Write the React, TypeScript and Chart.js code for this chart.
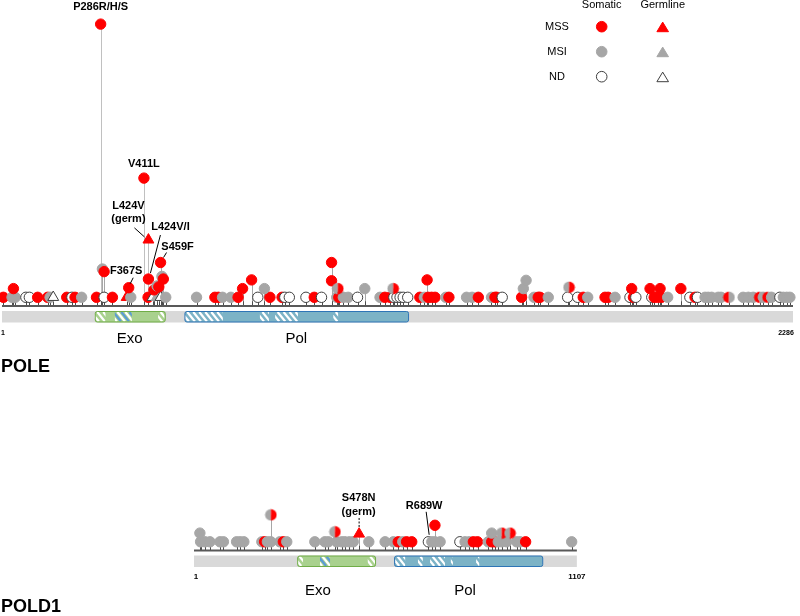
import React, { useEffect, useRef } from 'react';
import { Chart, registerables } from 'chart.js';

Chart.register(...registerables);

const FONT = '"Liberation Sans", Arial, Helvetica, sans-serif';

// Protein lengths (amino acids)
const poleLength = 2286;
const pold1Length = 1107;

// Classes: R = MSS somatic, G = MSI somatic, W = ND somatic,
// RG / GR = mixed MSS + MSI, TR / TG / TW = germline MSS / MSI / ND
// [position, class] — mutations at stack height 1
const poleBase: [number, string][] = [
  [5, 'R'], [30, 'G'], [39, 'G'], [70, 'W'], [80, 'W'], [104, 'R'], [133, 'R'], [140, 'G'], [149, 'TW'],
  [188, 'R'], [203, 'W'], [212, 'R'], [231, 'G'], [274, 'R'], [296, 'W'], [320, 'R'], [361, 'TR'], [373, 'G'],
  [423, 'R'], [436, 'TW'], [448, 'TG'], [459, 'TW'], [474, 'G'], [563, 'G'], [616, 'R'], [626, 'R'], [638, 'G'],
  [662, 'G'], [683, 'R'], [740, 'W'], [775, 'R'], [810, 'R'], [818, 'W'], [831, 'W'], [879, 'W'], [903, 'R'],
  [924, 'W'], [968, 'G'], [974, 'R'], [987, 'G'], [1001, 'G'], [1028, 'W'], [1093, 'G'], [1107, 'R'], [1122, 'R'],
  [1133, 'W'], [1142, 'W'], [1151, 'W'], [1160, 'W'], [1173, 'W'], [1208, 'R'], [1221, 'G'], [1232, 'R'], [1242, 'R'],
  [1252, 'R'], [1283, 'G'], [1292, 'R'], [1343, 'G'], [1359, 'G'], [1377, 'R'], [1415, 'G'], [1425, 'R'], [1430, 'R'],
  [1446, 'W'], [1502, 'R'], [1538, 'G'], [1550, 'R'], [1555, 'R'], [1579, 'G'], [1635, 'W'], [1664, 'W'], [1680, 'R'],
  [1693, 'G'], [1743, 'R'], [1752, 'R'], [1772, 'G'], [1815, 'W'], [1825, 'R'], [1832, 'W'], [1878, 'W'], [1885, 'R'],
  [1895, 'R'], [1906, 'R'], [1924, 'G'], [1988, 'W'], [2003, 'R'], [2010, 'W'], [2032, 'G'], [2041, 'G'], [2051, 'G'],
  [2070, 'G'], [2078, 'G'], [2101, 'RG'], [2142, 'G'], [2157, 'G'], [2171, 'G'], [2190, 'RG'], [2200, 'G'], [2214, 'RG'],
  [2224, 'G'], [2248, 'W'], [2258, 'G'], [2268, 'G'], [2277, 'G'],
];
// [position, stack height, class]
const poleStacked: [number, number, string][] = [
  [34, 2, 'R'], [291, 4.25, 'G'], [296, 3.95, 'R'], [286, 32.4, 'R'], [367, 2.1, 'R'],
  [440, 1.85, 'R'], [449, 2.3, 'G'], [454, 2.2, 'R'], [424, 3.1, 'R'], [463, 3.4, 'G'], [467, 3.1, 'R'],
  [459, 5.0, 'R'], [424, 7.6, 'TR'], [411, 14.7, 'R'],
  [696, 2, 'R'], [722, 3, 'R'], [759, 2, 'G'], [953, 2.9, 'R'], [953, 5, 'R'], [971, 2, 'GR'], [1049, 2, 'G'],
  [1131, 2, 'GR'], [1229, 3, 'R'], [1507, 2, 'G'], [1515, 2.95, 'G'], [1639, 2.15, 'GR'], [1820, 2, 'R'],
  [1873, 2, 'R'], [1902, 2, 'R'], [1962, 2, 'R'],
];

const pold1Base: [number, string][] = [
  [20, 'G'], [33, 'G'], [47, 'G'], [76, 'G'], [86, 'G'], [124, 'G'], [134, 'G'], [145, 'G'], [197, 'G'], [205, 'R'],
  [213, 'G'], [223, 'G'], [249, 'G'], [259, 'R'], [269, 'G'], [350, 'G'], [379, 'G'], [389, 'G'], [413, 'G'], [428, 'G'],
  [437, 'G'], [450, 'G'], [461, 'G'], [506, 'G'], [553, 'G'], [577, 'G'], [591, 'R'], [604, 'G'], [615, 'R'], [630, 'R'],
  [678, 'W'], [688, 'G'], [697, 'G'], [712, 'G'], [769, 'W'], [784, 'G'], [796, 'G'], [808, 'R'], [820, 'R'], [851, 'G'],
  [861, 'R'], [870, 'R'], [880, 'G'], [890, 'G'], [904, 'G'], [933, 'G'], [943, 'G'], [959, 'R'], [1092, 'G'],
];
const pold1Stacked: [number, number, string][] = [
  [18, 2, 'G'], [223, 4.1, 'GR'], [408, 2.15, 'GR'], [478, 1.9, 'TR'], [697, 2.9, 'R'],
  [861, 2, 'G'], [890, 2, 'GR'], [914, 2, 'GR'],
];

// Domains
const poleDomainNames = ['Exo', 'Pol'];
const poleDomainStarts = [269, 528];
const poleDomainEnds = [471, 1174];
const poleDomainLabelAt = [370, 851];
const poleMotifStarts = [269, 327, 452, 529, 746, 790, 958];
const poleMotifEnds = [300, 376, 471, 639, 772, 856, 972];
const poleMotifKinds = ['w', 'b', 'w', 'w', 'w', 'w', 'w'];

const pold1DomainNames = ['Exo', 'Pol'];
const pold1DomainStarts = [299, 579];
const pold1DomainEnds = [524, 1007];
const pold1DomainLabelAt = [359, 784];
const pold1MotifStarts = [299, 365, 503, 582, 648, 683, 743, 816];
const pold1MotifEnds = [316, 394, 524, 611, 662, 726, 749, 825];
const pold1MotifKinds = ['w', 'b', 'w', 'w', 'w', 'w', 'w', 'w'];

// Annotated mutations
const poleLabels = [
  { lines: ['P286R/H/S'], at: 286, level: 32.4, dx: 0, dy: -17 },
  { lines: ['V411L'], at: 411, level: 14.7, dx: 0, dy: -14 },
  { lines: ['L424V', '(germ)'], at: 424, level: 7.6, dx: -20, dy: -34, leader: [-14, -12, -4, -3] },
  { lines: ['L424V/I'], at: 424, level: 3.1, dx: 22, dy: -52, leader: [12, -44, 2, -6] },
  { lines: ['S459F'], at: 459, level: 5.0, dx: 17, dy: -16, leader: [6, -10, 3, -5] },
  { lines: ['F367S'], at: 367, level: 2.1, dx: -2.5, dy: -17, leader: [4.5, -10, 1.5, -4] },
];
const pold1Labels = [
  { lines: ['S478N', '(germ)'], at: 478, level: 1.9, dx: -0.5, dy: -36, leader: [0, -16, 0, -6], dashed: true },
  { lines: ['R689W'], at: 689, level: 1, dx: -8, dy: -36, leader: [-6, -30, -3, -7] },
];

const legendRows = ['MSS', 'MSI', 'ND'];
const legendCols = ['Somatic', 'Germline'];

export default function App() {
  const ref = useRef<HTMLCanvasElement | null>(null);

  useEffect(() => {
    const canvas = ref.current;
    if (!canvas) return;
    const W = 800;
    const H = 616;
    const AA_PX = (793 - 2) / (poleLength - 1);
    const LEVEL_PX = 8.7;
    const xRange = (x1px: number) => {
      const min = 1 - x1px / AA_PX;
      return { min, max: min + W / AA_PX };
    };
    const yRange = (basePx: number) => {
      const max = basePx / LEVEL_PX;
      return { min: max - H / LEVEL_PX, max };
    };

    const RED = '#ff0000';
    const GRAY = '#a6a6a6';
    const WHITE = '#ffffff';
    const EDGE = '#3f3f3f';

    const halfDot = (left: string, right: string) => {
      const c = document.createElement('canvas');
      c.width = 13;
      c.height = 13;
      const g = c.getContext('2d')!;
      g.fillStyle = left;
      g.beginPath();
      g.moveTo(6.5, 6.5);
      g.arc(6.5, 6.5, 5.8, Math.PI / 2, Math.PI * 1.5);
      g.closePath();
      g.fill();
      g.fillStyle = right;
      g.beginPath();
      g.moveTo(6.5, 6.5);
      g.arc(6.5, 6.5, 5.8, -Math.PI / 2, Math.PI / 2);
      g.closePath();
      g.fill();
      return c;
    };
    const dotRG = halfDot(RED, GRAY);
    const dotGR = halfDot(GRAY, RED);

    const toPoints = (base: [number, string][], stacked: [number, number, string][]) => [
      ...base.map(([x, t]) => ({ x, y: 1, t })),
      ...stacked.map(([x, y, t]) => ({ x, y, t })),
    ];
    const fillOf = (t?: string) =>
      t === 'R' || t === 'TR' ? RED : t === 'G' || t === 'TG' ? GRAY : WHITE;

    const makeDataset = (data: any[], xAxisID: string, yAxisID: string) => ({
      data,
      xAxisID,
      yAxisID,
      pointStyle: (c: any) => {
        const t = c.raw?.t;
        if (t === 'RG') return dotRG;
        if (t === 'GR') return dotGR;
        return t && t[0] === 'T' ? 'triangle' : 'circle';
      },
      pointRadius: (c: any) => (c.raw?.t?.[0] === 'T' ? 6.3 : 5.2),
      pointBackgroundColor: (c: any) => fillOf(c.raw?.t),
      pointBorderColor: (c: any) => {
        const f = fillOf(c.raw?.t);
        return f === WHITE ? EDGE : f;
      },
      pointBorderWidth: 1,
      showLine: false,
    });

    const genes = [
      {
        xId: 'xPole', yId: 'yPole', length: poleLength, base: poleBase, stacked: poleStacked,
        dNames: poleDomainNames, dStart: poleDomainStarts, dEnd: poleDomainEnds, dLabel: poleDomainLabelAt,
        mStart: poleMotifStarts, mEnd: poleMotifEnds, mKind: poleMotifKinds, labels: poleLabels,
        name: 'POLE', nameDy: 61, dLabelDy: 33, endDy: 27, endFont: 'bold 7px ', startDx: 1, endDx: -7,
      },
      {
        xId: 'xPold1', yId: 'yPold1', length: pold1Length, base: pold1Base, stacked: pold1Stacked,
        dNames: pold1DomainNames, dStart: pold1DomainStarts, dEnd: pold1DomainEnds, dLabel: pold1DomainLabelAt,
        mStart: pold1MotifStarts, mEnd: pold1MotifEnds, mKind: pold1MotifKinds, labels: pold1Labels,
        name: 'POLD1', nameDy: 56.5, dLabelDy: 40.5, endDy: 26.5, endFont: 'bold 8px ', startDx: 2, endDx: 0,
      },
    ];

    const line = (ctx: CanvasRenderingContext2D, x1: number, y1: number, x2: number, y2: number) => {
      ctx.beginPath();
      ctx.moveTo(x1, y1);
      ctx.lineTo(x2, y2);
      ctx.stroke();
    };

    const hatch = (ctx: CanvasRenderingContext2D, x1: number, x2: number, top: number, h: number, kind: string) => {
      ctx.save();
      ctx.beginPath();
      ctx.rect(x1, top, x2 - x1, h);
      ctx.clip();
      ctx.lineWidth = 2.2;
      let i = 0;
      for (let x = x1 - h; x < x2 + 2; x += kind === 'b' ? 4 : 6, i++) {
        ctx.strokeStyle = kind === 'b' ? (i % 2 ? '#ffffff' : '#5b9bd5') : '#ffffff';
        line(ctx, x, top, x + h * 0.8, top + h);
      }
      ctx.restore();
    };

    const decor = {
      id: 'lollipopDecor',
      beforeDatasetsDraw(chart: any) {
        const ctx: CanvasRenderingContext2D = chart.ctx;
        ctx.save();
        for (const g of genes) {
          const xs = chart.scales[g.xId];
          const ys = chart.scales[g.yId];
          const y0 = ys.getPixelForValue(0);
          const xa = xs.getPixelForValue(1);
          const xb = xs.getPixelForValue(g.length);
          const top = y0 + 5;
          const h = 11.5;
          // track
          ctx.fillStyle = '#d9d9d9';
          ctx.fillRect(xa, top, xb - xa, h);
          // domains
          g.dNames.forEach((nm, i) => {
            const d1 = xs.getPixelForValue(g.dStart[i]);
            const d2 = xs.getPixelForValue(g.dEnd[i]);
            const isExo = nm === 'Exo';
            ctx.fillStyle = isExo ? '#a9d18e' : '#7cb3c6';
            ctx.beginPath();
            ctx.roundRect(d1 + 0.5, top + 0.5, d2 - d1, h - 1, 2);
            ctx.fill();
            g.mStart.forEach((ms, k) => {
              if (ms >= g.dStart[i] && g.mEnd[k] <= g.dEnd[i]) {
                hatch(ctx, xs.getPixelForValue(ms), xs.getPixelForValue(g.mEnd[k]), top + 1, h - 2, g.mKind[k]);
              }
            });
            ctx.strokeStyle = isExo ? '#70ad47' : '#2e75b6';
            ctx.lineWidth = 1;
            ctx.beginPath();
            ctx.roundRect(d1 + 0.5, top + 0.5, d2 - d1, h - 1, 2);
            ctx.stroke();
            ctx.fillStyle = '#000';
            ctx.font = '15px ' + FONT;
            ctx.textAlign = 'center';
            ctx.textBaseline = 'middle';
            ctx.fillText(nm, xs.getPixelForValue(g.dLabel[i]), y0 + g.dLabelDy);
          });
          // stems
          ctx.lineWidth = 1;
          const stems: [number, number][] = [
            ...g.base.map(([x]) => [x, 1] as [number, number]),
            ...g.stacked.map(([x, lv]) => [x, lv] as [number, number]),
          ];
          const yBaseBottom = ys.getPixelForValue(1) + 4;
          for (const [aa, lv] of stems) {
            const px = Math.round(xs.getPixelForValue(aa)) + 0.5;
            if (lv > 1.2) {
              ctx.strokeStyle = lv > 6 ? '#c0c0c0' : '#a6a6a6';
              line(ctx, px, y0, px, ys.getPixelForValue(lv));
            }
            ctx.strokeStyle = '#4d4d4d';
            line(ctx, px, y0, px, yBaseBottom);
          }
          // backbone
          ctx.strokeStyle = '#595959';
          ctx.lineWidth = 2;
          line(ctx, xa, y0, xb, y0);
        }
        ctx.restore();
      },
      afterDatasetsDraw(chart: any) {
        const ctx: CanvasRenderingContext2D = chart.ctx;
        ctx.save();
        ctx.textAlign = 'center';
        ctx.textBaseline = 'middle';
        for (const g of genes) {
          const xs = chart.scales[g.xId];
          const ys = chart.scales[g.yId];
          const y0 = ys.getPixelForValue(0);
          // mutation labels
          for (const L of g.labels as any[]) {
            const ax = xs.getPixelForValue(L.at);
            const ay = ys.getPixelForValue(L.level);
            ctx.fillStyle = '#000';
            ctx.font = 'bold 11px ' + FONT;
            L.lines.forEach((s: string, i: number) => ctx.fillText(s, ax + L.dx, ay + L.dy + i * 13.5));
            if (L.leader) {
              ctx.strokeStyle = '#000';
              ctx.lineWidth = 1;
              ctx.setLineDash(L.dashed ? [2, 1.5] : []);
              line(ctx, ax + L.leader[0], ay + L.leader[1], ax + L.leader[2], ay + L.leader[3]);
              ctx.setLineDash([]);
            }
          }
          // ends
          ctx.fillStyle = '#000';
          ctx.font = g.endFont + FONT;
          ctx.fillText('1', xs.getPixelForValue(1) + g.startDx, y0 + g.endDy);
          ctx.fillText(String(g.length), xs.getPixelForValue(g.length) + g.endDx, y0 + g.endDy);
          // gene name
          ctx.font = 'bold 18px ' + FONT;
          ctx.textAlign = 'left';
          ctx.fillText(g.name, 1, y0 + g.nameDy);
          ctx.textAlign = 'center';
        }
        // legend
        const colX = [601.7, 662.7];
        const rowY = [26.7, 51.7, 76.7];
        ctx.font = '11px ' + FONT;
        ctx.fillStyle = '#000';
        legendCols.forEach((c, i) => ctx.fillText(c, colX[i], 5));
        legendRows.forEach((r, j) => {
          ctx.fillStyle = '#000';
          ctx.fillText(r, 557, rowY[j]);
          const fill = j === 0 ? RED : j === 1 ? GRAY : WHITE;
          const edge = j === 2 ? EDGE : fill;
          ctx.fillStyle = fill;
          ctx.strokeStyle = edge;
          ctx.lineWidth = 1;
          ctx.beginPath();
          ctx.arc(colX[0], rowY[j], 5.3, 0, Math.PI * 2);
          ctx.fill();
          ctx.stroke();
          ctx.beginPath();
          ctx.moveTo(colX[1], rowY[j] - 4.6);
          ctx.lineTo(colX[1] + 5.8, rowY[j] + 5);
          ctx.lineTo(colX[1] - 5.8, rowY[j] + 5);
          ctx.closePath();
          ctx.fill();
          ctx.stroke();
        });
        ctx.restore();
      },
    };

    const chart = new Chart(canvas, {
      type: 'scatter',
      data: {
        datasets: [
          makeDataset(toPoints(poleBase, poleStacked), 'xPole', 'yPole') as any,
          makeDataset(toPoints(pold1Base, pold1Stacked), 'xPold1', 'yPold1') as any,
        ],
      },
      options: {
        responsive: false,
        animation: false,
        devicePixelRatio: 1,
        events: [],
        layout: { padding: 0, autoPadding: false },
        plugins: { legend: { display: false }, tooltip: { enabled: false } },
        scales: {
          xPole: { type: 'linear', display: false, bounds: 'data', ...xRange(2) },
          yPole: { type: 'linear', display: false, bounds: 'data', ...yRange(306) },
          xPold1: { type: 'linear', display: false, bounds: 'data', ...xRange(194) },
          yPold1: { type: 'linear', display: false, bounds: 'data', ...yRange(550.5) },
        },
      } as any,
      plugins: [decor],
    });
    return () => chart.destroy();
  }, []);

  return (
    <div style={{ position: 'absolute', left: 0, top: 0, width: 800, height: 616, background: '#fff' }}>
      <canvas ref={ref} width={800} height={616} style={{ display: 'block' }} />
    </div>
  );
}
